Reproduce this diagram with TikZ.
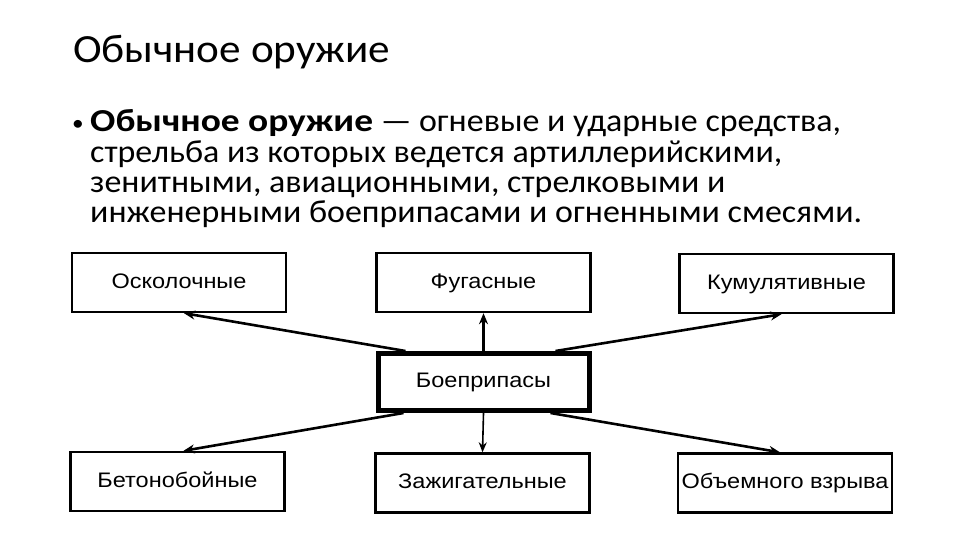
\documentclass[tikz,border=0pt]{standalone}
\usepackage{fontspec}
\setmainfont{Carlito}
\newfontfamily\titlefont[FakeStretch=1.08]{Carlito}
\newfontfamily\bodyfont[FakeStretch=1.06]{Carlito}
\newfontfamily\bodybold[FakeStretch=1.17]{Carlito}
\newfontfamily\boxfont[FakeStretch=1.12]{Liberation Sans}
\usetikzlibrary{arrows.meta,calc}
\tikzset{
  catbox/.style={draw=black, line width=2.4pt, minimum width=214pt, minimum height=59pt, inner sep=0pt,
    text height=15pt, text depth=4pt,
    font=\boxfont\fontsize{21}{24}\selectfont},
  mainbox/.style={catbox, line width=5pt},
  bodyline/.style={anchor=base west, inner sep=0pt, font=\bodyfont\fontsize{32}{30}\selectfont},
  link/.style={line width=2.6pt, -{Stealth[length=11pt,width=9pt]}},
  thinlink/.style={line width=1.6pt, -{Stealth[length=10pt,width=8pt]}}
}
\begin{document}
\begin{tikzpicture}[x=1pt,y=-1pt]
\useasboundingbox (0,0) rectangle (960,540);
\fill[white] (0,0) rectangle (960,540);
% title
\node[anchor=base west, inner sep=0pt, font=\titlefont\fontsize{40}{44}\selectfont] (title) at (73,62.5) {Обычное оружие};
% bullet
\node[anchor=base west, inner sep=0pt, font=\bodyfont\fontsize{22}{30}\selectfont] (bullet) at (72,131) {•};
\node[bodyline] (l1) at (90,132) {{\bodybold\bfseries Обычное оружие} — огневые и ударные средства,};
\node[bodyline] (l2) at (90,163) {стрельба из которых ведется артиллерийскими,};
\node[bodyline] (l3) at (90,193) {зенитными, авиационными, стрелковыми и};
\node[bodyline] (l4) at (90,222) {инженерными боеприпасами и огненными смесями.};
% boxes
\node[catbox] (osk) at (179,282.5) {Осколочные};
\node[catbox] (fug) at (483.5,282.5) {Фугасные};
\node[catbox] (kum) at (786.5,283.5) {Кумулятивные};
\node[mainbox, minimum width=211pt, minimum height=57pt] (bp) at (483.5,382) {Боеприпасы};
\node[catbox] (bet) at (177.5,481.5) {Бетонобойные};
\node[catbox] (zaz) at (482.5,483) {Зажигательные};
\node[catbox] (obj) at (785,483) {Объемного взрыва};
% connectors
\draw[link] ([xshift=-78pt]bp.north) -- ([xshift=5pt]osk.south);
\draw[link] (bp.north) -- (fug.south);
\draw[link] ([xshift=72pt]bp.north) -- ([xshift=-5pt]kum.south);
\draw[link] ([xshift=-80pt]bp.south) -- ([xshift=6pt]bet.north);
\draw[thinlink] (bp.south) -- (zaz.north);
\draw[link] ([xshift=67pt]bp.south) -- ([xshift=-5pt]obj.north);
\end{tikzpicture}
\end{document}
